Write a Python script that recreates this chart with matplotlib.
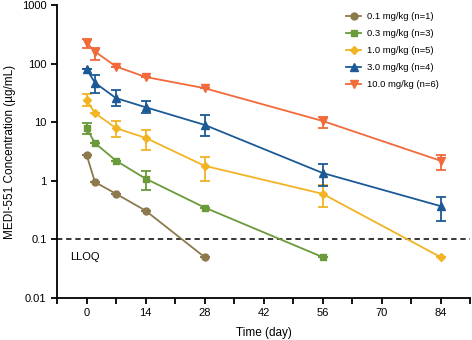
import numpy as np
import matplotlib
matplotlib.use('Agg')
import matplotlib.pyplot as plt

plt.rcParams['font.family'] = ['Liberation Sans', 'DejaVu Sans']

days = [0, 2, 7, 14, 28, 56, 84]

labels = ['0.1 mg/kg (n=1)', '0.3 mg/kg (n=3)', '1.0 mg/kg (n=5)',
          '3.0 mg/kg (n=4)', '10.0 mg/kg (n=6)']
colors = ['#8C7A4C', '#6A9A3A', '#F2B324', '#1C5A96', '#F2693A']
markers = ['o', 's', 'D', '^', 'v']
msizes = [5, 5, 4.3, 5.5, 5.5]

# mean concentration per dose group (None = not sampled)
mean_01 = [2.8, 0.95, 0.6, 0.31, 0.05, None, None]
mean_03 = [7.9, 4.4, 2.2, 1.09, 0.35, 0.05, None]
mean_10 = [24, 14.3, 7.9, 5.4, 1.8, 0.6, 0.05]
mean_30 = [81, 47, 25.7, 18, 9.0, 1.36, 0.37]
mean_100 = [228, 160, 89, 59, 38, 10.5, 2.2]

# error bar ends (low, high)
low_01 = [2.8, 0.95, 0.6, 0.31, 0.05, None, None]
high_01 = [2.8, 0.95, 0.6, 0.31, 0.05, None, None]
low_03 = [6.4, 4.4, 2.2, 0.70, 0.35, 0.05, None]
high_03 = [9.6, 4.4, 2.2, 1.45, 0.35, 0.05, None]
low_10 = [19, 14.3, 5.6, 3.3, 1.0, 0.36, 0.05]
high_10 = [30, 14.3, 10.3, 7.4, 2.5, 0.86, 0.05]
low_30 = [81, 32, 19, 14.6, 5.9, 0.83, 0.21]
high_30 = [81, 64, 34.7, 23, 13, 1.95, 0.53]
low_100 = [183, 116, 89, 59, 38, 8.1, 1.55]
high_100 = [260, 183, 89, 59, 38, 12.2, 2.8]

means = [mean_01, mean_03, mean_10, mean_30, mean_100]
lows = [low_01, low_03, low_10, low_30, low_100]
highs = [high_01, high_03, high_10, high_30, high_100]

lloq = 0.1

fig = plt.figure(figsize=(4.72, 3.4), dpi=100)
ax = fig.add_axes([0.1208, 0.1235, 0.875, 0.862])

handles = []
for m, lo, hi, c, mk, ms, lab in zip(means, lows, highs, colors, markers, msizes, labels):
    idx = [i for i, v in enumerate(m) if v is not None]
    x = np.array([days[i] for i in idx])
    y = np.array([m[i] for i in idx])
    yl = np.array([lo[i] for i in idx])
    yh = np.array([hi[i] for i in idx])
    err = np.vstack([y - yl, yh - y])
    ax.errorbar(x, y, yerr=err, fmt='none', ecolor=c, elinewidth=1.3,
                capsize=3.6, capthick=1.3, zorder=2)
    h, = ax.plot(x, y, color=c, marker=mk, markersize=ms, lw=1.3,
                 label=lab, zorder=3)
    handles.append(h)

ax.axhline(lloq, color='black', ls=(0, (3.5, 2.5)), lw=1.1, zorder=1)
ax.text(-4, 0.05, 'LLOQ', fontsize=8, va='center', ha='left')

ax.set_yscale('log')
ax.set_ylim(0.01, 1000)
ax.set_yticks([0.01, 0.1, 1, 10, 100, 1000])
ax.set_yticklabels(['0.01', '0.1', '1', '10', '100', '1000'])
ax.yaxis.set_minor_locator(matplotlib.ticker.NullLocator())

ax.set_xlim(-7, 91)
ax.set_xticks(np.arange(-7, 92, 7))
ax.set_xticklabels([str(t) if t % 14 == 0 and 0 <= t <= 84 else '' for t in range(-7, 92, 7)])

for s in ['top', 'right']:
    ax.spines[s].set_visible(False)
for s in ['left', 'bottom']:
    ax.spines[s].set_linewidth(1.3)
ax.tick_params(axis='both', labelsize=8, width=1.3, length=4, direction='out')

ax.set_xlabel('Time (day)', fontsize=8.5, labelpad=6)
ax.set_ylabel('MEDI-551 Concentration (µg/mL)', fontsize=8.5)

ax.legend(handles=handles, loc='upper left', bbox_to_anchor=(0.7, 0.975),
          frameon=False, fontsize=6.8, handlelength=1.6, handletextpad=0.6,
          labelspacing=0.85, borderaxespad=0, borderpad=0)

fig.savefig('out.png', dpi=100)
